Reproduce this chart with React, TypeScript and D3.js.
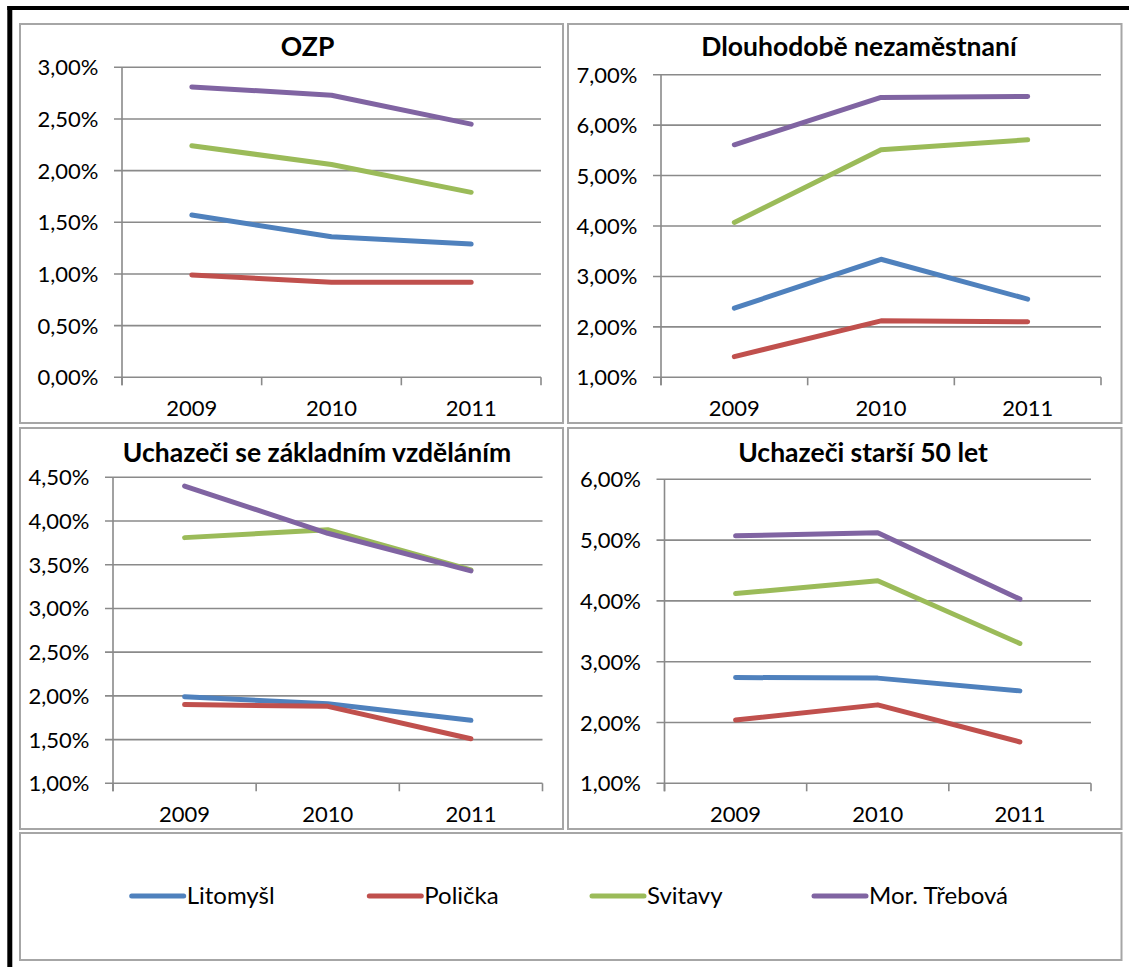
import React, { useEffect, useRef } from "react";
import * as d3 from "d3";

// ---- data ----
const years = ["2009", "2010", "2011"];
const seriesNames = ["Litomyšl", "Polička", "Svitavy", "Mor. Třebová"];
const seriesColors = ["#4F81BD", "#C0504D", "#9BBB59", "#8064A2"];

const panelTitles = [
  "OZP",
  "Dlouhodobě nezaměstnaní",
  "Uchazeči se základním vzděláním",
  "Uchazeči starší 50 let",
];

// values in %
const ozpLitomysl = [1.57, 1.36, 1.29];
const ozpPolicka = [0.99, 0.92, 0.92];
const ozpSvitavy = [2.24, 2.06, 1.79];
const ozpTrebova = [2.81, 2.73, 2.45];

const dlouhLitomysl = [2.37, 3.34, 2.55];
const dlouhPolicka = [1.41, 2.12, 2.1];
const dlouhSvitavy = [4.07, 5.51, 5.71];
const dlouhTrebova = [5.61, 6.55, 6.57];

const zaklLitomysl = [1.99, 1.91, 1.72];
const zaklPolicka = [1.9, 1.88, 1.51];
const zaklSvitavy = [3.81, 3.9, 3.44];
const zaklTrebova = [4.4, 3.86, 3.43];

const s50Litomysl = [2.74, 2.73, 2.52];
const s50Policka = [2.04, 2.29, 1.68];
const s50Svitavy = [4.12, 4.33, 3.3];
const s50Trebova = [5.07, 5.12, 4.03];

const yDomains: [number, number][] = [
  [0, 3],
  [1, 7],
  [1, 4.5],
  [1, 6],
];
const yTickSteps = [0.5, 1, 0.5, 1];

const panelSeries = [
  [ozpLitomysl, ozpPolicka, ozpSvitavy, ozpTrebova],
  [dlouhLitomysl, dlouhPolicka, dlouhSvitavy, dlouhTrebova],
  [zaklLitomysl, zaklPolicka, zaklSvitavy, zaklTrebova],
  [s50Litomysl, s50Policka, s50Svitavy, s50Trebova],
];

// ---- layout ----
const W = 1129;
const H = 967;
const layouts = [
  { box: [20, 24, 563, 423], plot: [122, 67.3, 541, 377.3], title: [307.6, 55.5] },
  { box: [568, 24, 1121.5, 423], plot: [661, 74.7, 1101, 377.3], title: [859, 55.5] },
  { box: [20, 428, 563, 829], plot: [113, 477.3, 542.5, 783.3], title: [317, 462] },
  { box: [568, 428, 1121.5, 829], plot: [664.5, 479.3, 1091, 783.3], title: [863, 461.5] },
];
const legendBox = [20, 833, 1121.5, 960];
const legendItemX = [131.7, 369.3, 592, 814];
const legendY = 896;

const FONT = "Lato, 'Open Sans', sans-serif";
const fmt = (v: number) => d3.format(".2f")(v).replace(".", ",") + "%";

export default function App() {
  const ref = useRef<SVGSVGElement | null>(null);

  useEffect(() => {
    const svg = d3.select(ref.current);
    svg.selectAll("*").remove();

    svg.append("rect").attr("x", 0).attr("y", 0).attr("width", W).attr("height", H).attr("fill", "#fff");

    // outer black frame
    svg.append("line").attr("x1", 9.8).attr("x2", 9.8).attr("y1", 6).attr("y2", H + 5)
      .attr("stroke", "#000").attr("stroke-width", 5);
    svg.append("line").attr("x1", 7.3).attr("x2", W + 5).attr("y1", 8).attr("y2", 8)
      .attr("stroke", "#000").attr("stroke-width", 4);

    layouts.forEach((lay, pi) => {
      const g = svg.append("g");
      const [bx0, by0, bx1, by1] = lay.box;
      g.append("rect").attr("x", bx0).attr("y", by0).attr("width", bx1 - bx0).attr("height", by1 - by0)
        .attr("fill", "#fff").attr("stroke", "#a6a6a6").attr("stroke-width", 2);

      const [px0, py0, px1, py1] = lay.plot;
      const x = d3.scaleBand<string>().domain(years).range([px0, px1]);
      const y = d3.scaleLinear().domain(yDomains[pi]).range([py1, py0]);
      const [d0, d1] = yDomains[pi];
      const ticks = d3.range(d0, d1 + 1e-9, yTickSteps[pi]);

      // gridlines + y ticks + labels
      ticks.forEach((t) => {
        const yy = y(t);
        g.append("line").attr("x1", px0 - 8).attr("x2", px1).attr("y1", yy).attr("y2", yy)
          .attr("stroke", "#8a8a8a").attr("stroke-width", 1.6);
        g.append("text").attr("x", px0 - 23.5).attr("y", yy + 8)
          .attr("text-anchor", "end").attr("font-family", FONT).attr("font-size", 22)
          .attr("fill", "#000").text(fmt(t));
      });
      // y axis
      g.append("line").attr("x1", px0).attr("x2", px0).attr("y1", py0).attr("y2", py1 + 8)
        .attr("stroke", "#8a8a8a").attr("stroke-width", 1.6);
      // x ticks
      const boundaries = years.map((c) => x(c) as number).concat([px1]);
      boundaries.forEach((bx) => {
        g.append("line").attr("x1", bx).attr("x2", bx).attr("y1", py1).attr("y2", py1 + 8)
          .attr("stroke", "#8a8a8a").attr("stroke-width", 1.6);
      });
      years.forEach((c) => {
        g.append("text").attr("x", (x(c) as number) + x.bandwidth() / 2).attr("y", py1 + 39)
          .attr("text-anchor", "middle").attr("font-family", FONT).attr("font-size", 22)
          .attr("fill", "#000").text(c);
      });

      // lines
      const line = d3.line<number>()
        .x((_, i) => (x(years[i]) as number) + x.bandwidth() / 2)
        .y((v) => y(v));
      panelSeries[pi].forEach((vals, si) => {
        g.append("path").attr("d", line(vals) as string).attr("fill", "none")
          .attr("stroke", seriesColors[si]).attr("stroke-width", 5)
          .attr("stroke-linecap", "round").attr("stroke-linejoin", "round");
      });

      // title
      g.append("text").attr("x", lay.title[0]).attr("y", lay.title[1])
        .attr("text-anchor", "middle").attr("font-family", FONT).attr("font-weight", "bold")
        .attr("font-size", 26.5).attr("fill", "#000").text(panelTitles[pi]);
    });

    // legend
    const [lx0, ly0, lx1, ly1] = legendBox;
    svg.append("rect").attr("x", lx0).attr("y", ly0).attr("width", lx1 - lx0).attr("height", ly1 - ly0)
      .attr("fill", "#fff").attr("stroke", "#a6a6a6").attr("stroke-width", 2);
    seriesNames.forEach((name, i) => {
      const sx = legendItemX[i];
      svg.append("line").attr("x1", sx).attr("x2", sx + 52).attr("y1", legendY).attr("y2", legendY)
        .attr("stroke", seriesColors[i]).attr("stroke-width", 5).attr("stroke-linecap", "round");
      svg.append("text").attr("x", sx + 55).attr("y", legendY + 7.5)
        .attr("font-family", FONT).attr("font-size", 24).attr("fill", "#000").text(name);
    });
  }, []);

  return (
    <svg
      ref={ref}
      width={W}
      height={H}
      style={{ position: "absolute", left: 0, top: 0, display: "block" }}
    />
  );
}
